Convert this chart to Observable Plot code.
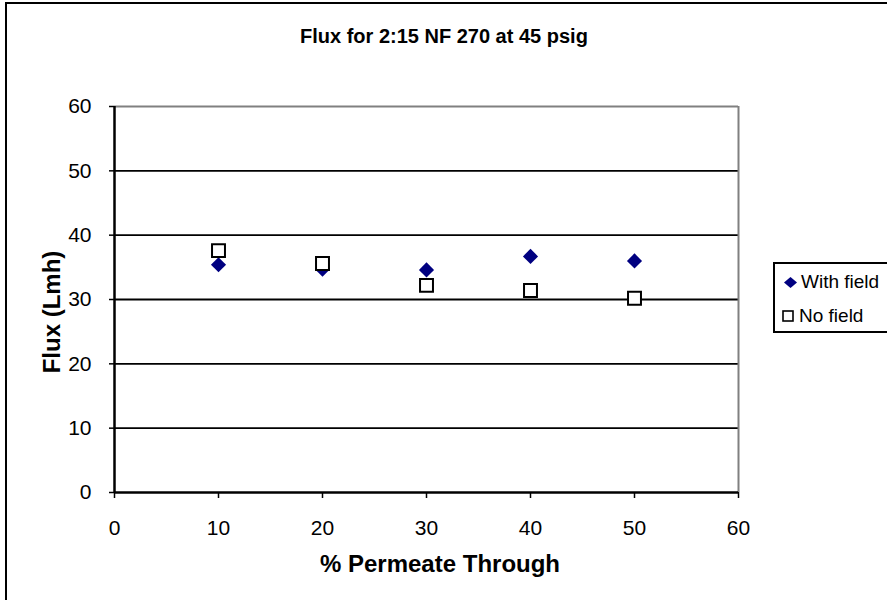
<!DOCTYPE html>
<html>
<head>
<meta charset="utf-8">
<script src="https://cdn.jsdelivr.net/npm/d3@7"></script>
<script src="https://cdn.jsdelivr.net/npm/@observablehq/plot@0.6"></script>
<style>
  html, body { margin: 0; padding: 0; background: #fff; overflow: hidden; }
  #wrap { position: relative; width: 887px; height: 600px; overflow: hidden; font-family: "Liberation Sans", Arial, sans-serif; }
  #border { position: absolute; left: 5px; top: 2px; width: 1000px; height: 700px; border: 2px solid #000; box-sizing: border-box; }
  #chart { position: absolute; left: 0; top: 0; }
  .title { position: absolute; left: 300px; top: 25px; font-weight: bold; font-size: 20px; line-height: 23px; white-space: nowrap; }
  .xlabel { position: absolute; top: 550px; left: 0; width: 880px; text-align: center; font-weight: bold; font-size: 24px; line-height: 28px; }
  .ylabel { position: absolute; left: 52px; top: 312px; transform: translate(-50%, -50%) rotate(-90deg); font-weight: bold; font-size: 24px; line-height: 28px; white-space: nowrap; }
  #legend { position: absolute; left: 773px; top: 262px; width: 200px; height: 71px; border: 2px solid #000; box-sizing: border-box; background: #fff; }
  .lt { position: absolute; font-size: 19px; line-height: 22px; white-space: nowrap; }
  .lm { position: absolute; }
</style>
</head>
<body>
<div id="wrap">
  <div id="border"></div>
  <div id="chart"></div>
  <div class="title">Flux for 2:15 NF 270 at 45 psig</div>
  <div class="xlabel">% Permeate Through</div>
  <div class="ylabel">Flux (Lmh)</div>
  <div id="legend"></div>
  <svg class="lm" style="left:783px;top:276px" width="15" height="13"><path d="M7.5,1L14,6.5L7.5,12L1,6.5Z" fill="#000080"/></svg>
  <div class="lt" style="left:801px;top:271px">With field</div>
  <svg class="lm" style="left:781px;top:309px" width="14" height="14"><rect x="2" y="2" width="10" height="10" fill="#fff" stroke="#000" stroke-width="1.6"/></svg>
  <div class="lt" style="left:799px;top:305px">No field</div>
</div>
<script>
const xs = [10, 20, 30, 40, 50];
const withField = [35.4, 34.7, 34.6, 36.7, 36.0];
const noField = [37.6, 35.6, 32.2, 31.4, 30.2];
const yTicks = [0, 10, 20, 30, 40, 50, 60];
const xTicks = [0, 10, 20, 30, 40, 50, 60];
const gridLines = [10, 20, 30, 40, 50];

const withData = xs.map((x, i) => ({x, y: withField[i]}));
const noData = xs.map((x, i) => ({x, y: noField[i]}));

const chart = Plot.plot({
  width: 887,
  height: 600,
  marginLeft: 114,
  marginRight: 149,
  marginTop: 106,
  marginBottom: 108,
  style: {fontFamily: '"Liberation Sans", Arial, sans-serif', fontSize: "21px", color: "#000", background: "transparent", overflow: "visible"},
  x: {domain: [0, 60]},
  y: {domain: [0, 60]},
  marks: [
    Plot.ruleY(gridLines, {stroke: "#000", strokeWidth: 1.8}),
    Plot.ruleY([60], {stroke: "#808080", strokeWidth: 2}),
    Plot.ruleX([60], {stroke: "#808080", strokeWidth: 2}),
    Plot.ruleX([0], {stroke: "#000", strokeWidth: 2.5}),
    Plot.ruleY([0], {stroke: "#000", strokeWidth: 2.5}),
    Plot.axisY({ticks: yTicks, tickSize: 5, tickPadding: 18, label: null, stroke: "#000", strokeWidth: 1.5, fontSize: 21}),
    Plot.axisX({ticks: xTicks, tickSize: 6, tickPadding: 22, label: null, stroke: "#000", strokeWidth: 1.5, fontSize: 21}),
    Plot.dot(withData, {x: "x", y: "y", symbol: "diamond2", r: 6.8, fill: "#000080", stroke: "none"}),
    Plot.dot(noData, {x: "x", y: "y", symbol: "square", r: 7.3, fill: "#fff", stroke: "#000", strokeWidth: 2})
  ]
});
document.getElementById("chart").appendChild(chart);
</script>
</body>
</html>
